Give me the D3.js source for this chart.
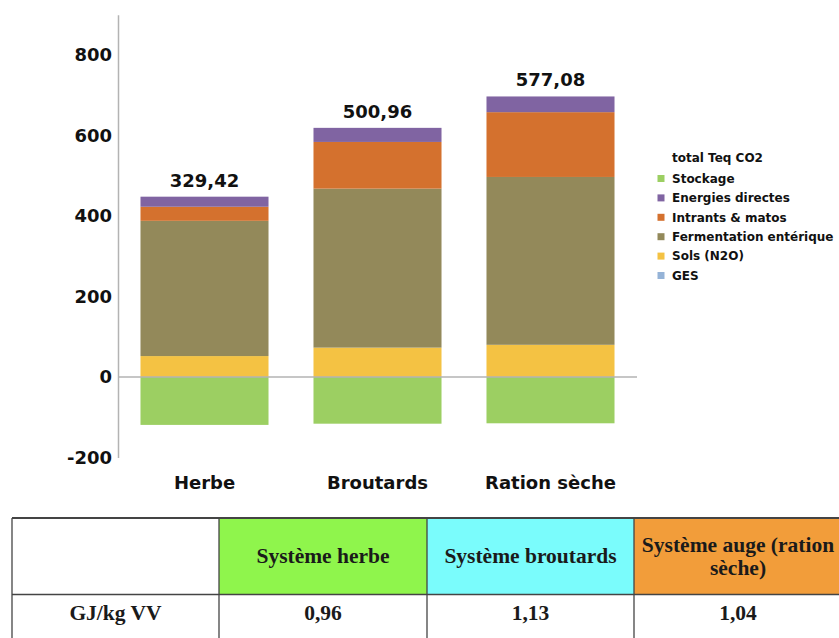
<!DOCTYPE html>
<html><head><meta charset="utf-8">
<script src="https://cdn.jsdelivr.net/npm/d3@7"></script>
<style>body{margin:0;background:#fff}svg{display:block}</style>
</head><body>
<svg id="c" width="839" height="638"></svg>
<script>
const categories = ["Herbe", "Broutards", "Ration sèche"];
const stockage = [-119, -116, -115];
const sols = [52, 73, 80];
const fermentation = [336, 395, 417];
const intrants = [35, 116, 161];
const energies = [25, 35, 39];
const ges = [0, 0, 0];
const totals = ["329,42", "500,96", "577,08"];
const yTicks = [-200, 0, 200, 400, 600, 800];
const legendTitle = "total Teq CO2";
const legendKeys = ["Stockage", "Energies directes", "Intrants & matos", "Fermentation entérique", "Sols (N2O)", "GES"];
const stackKeys = ["Stockage", "Sols (N2O)", "Fermentation entérique", "Intrants & matos", "Energies directes", "GES"];
const seriesColors = ["#9ccf62", "#8064a2", "#d4712e", "#93895a", "#f4c243", "#95b3d7"];
const tableHeaders = ["", "Système herbe", "Système broutards", "Système auge (ration|sèche)"];
const tableRowLabel = "GJ/kg VV";
const tableValues = ["0,96", "1,13", "1,04"];
const tableColors = ["#ffffff", "#8ff54c", "#7afcfc", "#f29d3a"];

const svg = d3.select("#c");
const rows = categories.map((c, i) => ({
  cat: c,
  "Stockage": stockage[i], "Sols (N2O)": sols[i], "Fermentation entérique": fermentation[i],
  "Intrants & matos": intrants[i], "Energies directes": energies[i], "GES": ges[i]
}));
const color = d3.scaleOrdinal().domain(legendKeys).range(seriesColors);

const x = d3.scaleBand().domain(categories).range([118, 637]).paddingInner(0.26).paddingOuter(0.13);
const y = d3.scaleLinear().domain([-200, 900]).range([457.5, 14.75]);

const stack = d3.stack().keys(stackKeys).offset(d3.stackOffsetDiverging);
const series = stack(rows);

// bars
svg.append("g").selectAll("g").data(series).join("g")
  .attr("fill", d => color(d.key))
  .selectAll("rect").data(d => d).join("rect")
  .attr("x", d => x(d.data.cat))
  .attr("width", x.bandwidth())
  .attr("y", d => y(Math.max(d[0], d[1])))
  .attr("height", d => Math.abs(y(d[0]) - y(d[1])));

// zero line
svg.append("line").attr("x1", 118).attr("x2", 637).attr("y1", y(0)).attr("y2", y(0))
  .attr("stroke", "#b3b3b3").attr("stroke-width", 1.5);

// y axis
const yAxis = d3.axisLeft(y).tickValues(yTicks).tickSize(0).tickPadding(6).tickFormat(d => String(d));
const ga = svg.append("g").attr("transform", "translate(118,0)").call(yAxis);
ga.select(".domain").attr("stroke", "#b3b3b3").attr("stroke-width", 1.5);
ga.selectAll("text").attr("font-family", "DejaVu Sans").attr("font-weight", "bold")
  .attr("font-size", 18).attr("fill", "#111");

// category labels
svg.append("g").selectAll("text").data(categories).join("text")
  .attr("x", d => x(d) + x.bandwidth() / 2).attr("y", 489)
  .attr("text-anchor", "middle").attr("font-family", "DejaVu Sans").attr("font-weight", "bold")
  .attr("font-size", 18).attr("fill", "#111").text(d => d);

// totals
svg.append("g").selectAll("text").data(rows).join("text")
  .attr("x", d => x(d.cat) + x.bandwidth() / 2)
  .attr("y", (d, i) => y(d3.max(series, s => s[i][1])) - 10)
  .attr("text-anchor", "middle").attr("font-family", "DejaVu Sans").attr("font-weight", "bold")
  .attr("font-size", 18).attr("fill", "#111").text((d, i) => totals[i]);

// legend
const lg = svg.append("g").attr("font-family", "DejaVu Sans").attr("font-weight", "bold").attr("font-size", 12).attr("fill", "#111");
lg.append("text").attr("x", 672).attr("y", 162).text(legendTitle);
legendKeys.forEach((k, i) => {
  const cy = 178.5 + i * 19.4;
  lg.append("rect").attr("x", 657.5).attr("y", cy - 3.5).attr("width", 7).attr("height", 7).attr("fill", color(k));
  lg.append("text").attr("x", 672).attr("y", cy + 4.3).text(k);
});

// table
const colX = [12, 219, 427, 634, 842];
const rowY = [518, 594.5, 660];
const tg = svg.append("g");
tableHeaders.forEach((h, i) => {
  tg.append("rect").attr("x", colX[i]).attr("y", rowY[0]).attr("width", colX[i + 1] - colX[i])
    .attr("height", rowY[1] - rowY[0]).attr("fill", tableColors[i]);
});
const tstroke = "#444";
tg.append("line").attr("x1", colX[0]).attr("x2", colX[4]).attr("y1", rowY[0]).attr("y2", rowY[0]).attr("stroke", tstroke).attr("stroke-width", 2);
tg.append("line").attr("x1", colX[0]).attr("x2", colX[4]).attr("y1", rowY[1]).attr("y2", rowY[1]).attr("stroke", tstroke).attr("stroke-width", 1.5);
colX.slice(0, 4).forEach(cx => {
  tg.append("line").attr("x1", cx).attr("x2", cx).attr("y1", rowY[0]).attr("y2", 640).attr("stroke", tstroke).attr("stroke-width", 1.3);
});
const tf = sel => sel.attr("font-family", "Liberation Serif").attr("font-weight", "bold").attr("font-size", 21.5)
  .attr("fill", "#1a1a1a").attr("text-anchor", "middle");
tableHeaders.forEach((h, i) => {
  if (!h) return;
  const lines = h.split("|");
  const cx = (colX[i] + colX[i + 1]) / 2;
  const mid = (rowY[0] + rowY[1]) / 2;
  lines.forEach((l, j) => {
    const cy = mid + (j - (lines.length - 1) / 2) * 23.5;
    tg.append("text").call(tf).attr("x", cx).attr("y", cy + 7).text(l);
  });
});
tg.append("text").call(tf).attr("x", (colX[0] + colX[1]) / 2).attr("y", 620).text(tableRowLabel);
tableValues.forEach((v, i) => {
  tg.append("text").call(tf).attr("x", (colX[i + 1] + colX[i + 2]) / 2).attr("y", 620).text(v);
});
</script>
</body></html>
